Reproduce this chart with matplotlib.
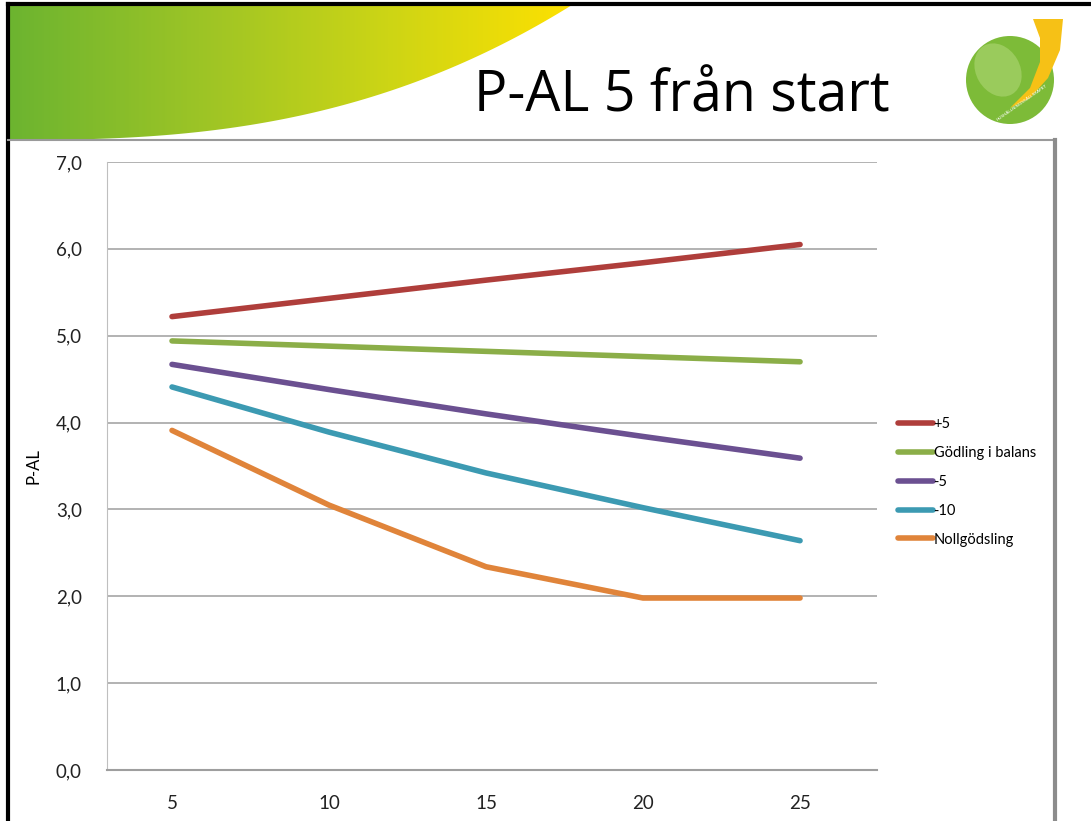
import matplotlib.pyplot as plt
import numpy as np
from matplotlib.patches import Circle, Ellipse, Polygon
from matplotlib.colors import LinearSegmentedColormap

# data
ar = [5, 10, 15, 20, 25]
serier = ['+5', 'Gödling i balans', '-5', '-10', 'Nollgödsling']
plus5 = [5.22, 5.43, 5.64, 5.84, 6.05]
balans = [4.94, 4.88, 4.82, 4.76, 4.70]
minus5 = [4.67, 4.38, 4.10, 3.84, 3.59]
minus10 = [4.41, 3.89, 3.42, 3.02, 2.64]
noll = [3.91, 3.05, 2.34, 1.98, 1.98]
farger = ['#AF3E3B', '#8BAE48', '#6B5091', '#3C9AB2', '#E0843A']

W, H = 1091, 821
fig = plt.figure(figsize=(W / 100, H / 100), dpi=100)

# bakgrund (bildspel)
bg = fig.add_axes([0, 0, 1, 1])
bg.set_xlim(0, W)
bg.set_ylim(H, 0)
bg.axis('off')

# grön-gul båge upptill
grad = np.linspace(0, 1, 400)[None, :]
cmap = LinearSegmentedColormap.from_list('swoosh', ['#6CB430', '#9CC426', '#CDD515', '#FFE100'])
im = bg.imshow(grad, cmap=cmap, extent=[8, 580, 140, 5], aspect='auto', zorder=1)
xs = np.linspace(8, 572, 80)
kurva = 140 - 135 * ((xs - 8) / 564) ** 2.6
poly = Polygon(np.vstack([[8, 5], [572, 5], np.column_stack([xs[::-1], kurva[::-1]])]),
               closed=True, transform=bg.transData, facecolor='none', edgecolor='none')
bg.add_patch(poly)
im.set_clip_path(poly)

# ramar
bg.plot([8, 8], [4, H], color='black', lw=3, zorder=5)
bg.plot([8, W], [4, 4], color='black', lw=3, zorder=5)
bg.plot([8, 1055], [140, 140], color='#9A9A9A', lw=1.5, zorder=5)
bg.plot([1055, 1055], [140, H], color='#8C8C8C', lw=3, zorder=5)

# rubrik
bg.text(682, 97, 'P-AL 5 från start', fontsize=40, family='Open Sans',
        ha='center', va='center', color='black', zorder=6)

# logga
bg.add_patch(Circle((1010, 80), 44, facecolor='#7DBB38', edgecolor='none', zorder=3))
bg.add_patch(Ellipse((998, 70), 44, 56, angle=-30, facecolor='#9ACB5C', edgecolor='none', zorder=4))
bg.add_patch(Polygon([[1033, 19], [1063, 19], [1060, 50], [1048, 78], [1030, 98], [1010, 108],
                      [1030, 88], [1040, 62], [1040, 38]],
                     closed=True, facecolor='#F6C116', edgecolor='none', zorder=4))
bg.text(1022, 103, 'HUSHÅLLNINGSSÄLLSKAPET', fontsize=3.2, color='white', rotation=35,
        ha='center', va='center', zorder=6)

# diagram
ax = fig.add_axes([107 / W, 1 - 770 / H, 770 / W, 608 / H])
for namn, y, f in zip(serier, [plus5, balans, minus5, minus10, noll], farger):
    ax.plot(ar, y, color=f, lw=4, solid_capstyle='round', label=namn)

ax.set_ylim(0, 7)
ax.set_xlim(2.93, 27.45)
ax.set_yticks(np.arange(0, 8, 1))
ax.set_yticklabels([f'{v:.1f}'.replace('.', ',') for v in np.arange(0, 8, 1)])
ax.set_xticks(ar)
ax.grid(axis='y', color='#A6A6A6', lw=1.2)
ax.set_axisbelow(True)
ax.tick_params(length=0, labelsize=13.5, pad=18, colors='#222222')
for lab in ax.get_xticklabels() + ax.get_yticklabels():
    lab.set_family('Lato')
ax.spines['top'].set_visible(False)
ax.spines['right'].set_visible(False)
ax.spines['left'].set_color('#BFBFBF')
ax.spines['bottom'].set_color('#9E9E9E')
ax.spines['bottom'].set_linewidth(1.5)
ax.set_ylabel('P-AL', fontsize=12, family='Lato', labelpad=10)

ax.legend(loc='center left', bbox_to_anchor=(1.01, 0.474), frameon=False,
          prop={'family': 'Lato', 'size': 10.5}, handlelength=2.4, handletextpad=0.05,
          labelspacing=1.02)

fig.savefig('out.png', dpi=100)
